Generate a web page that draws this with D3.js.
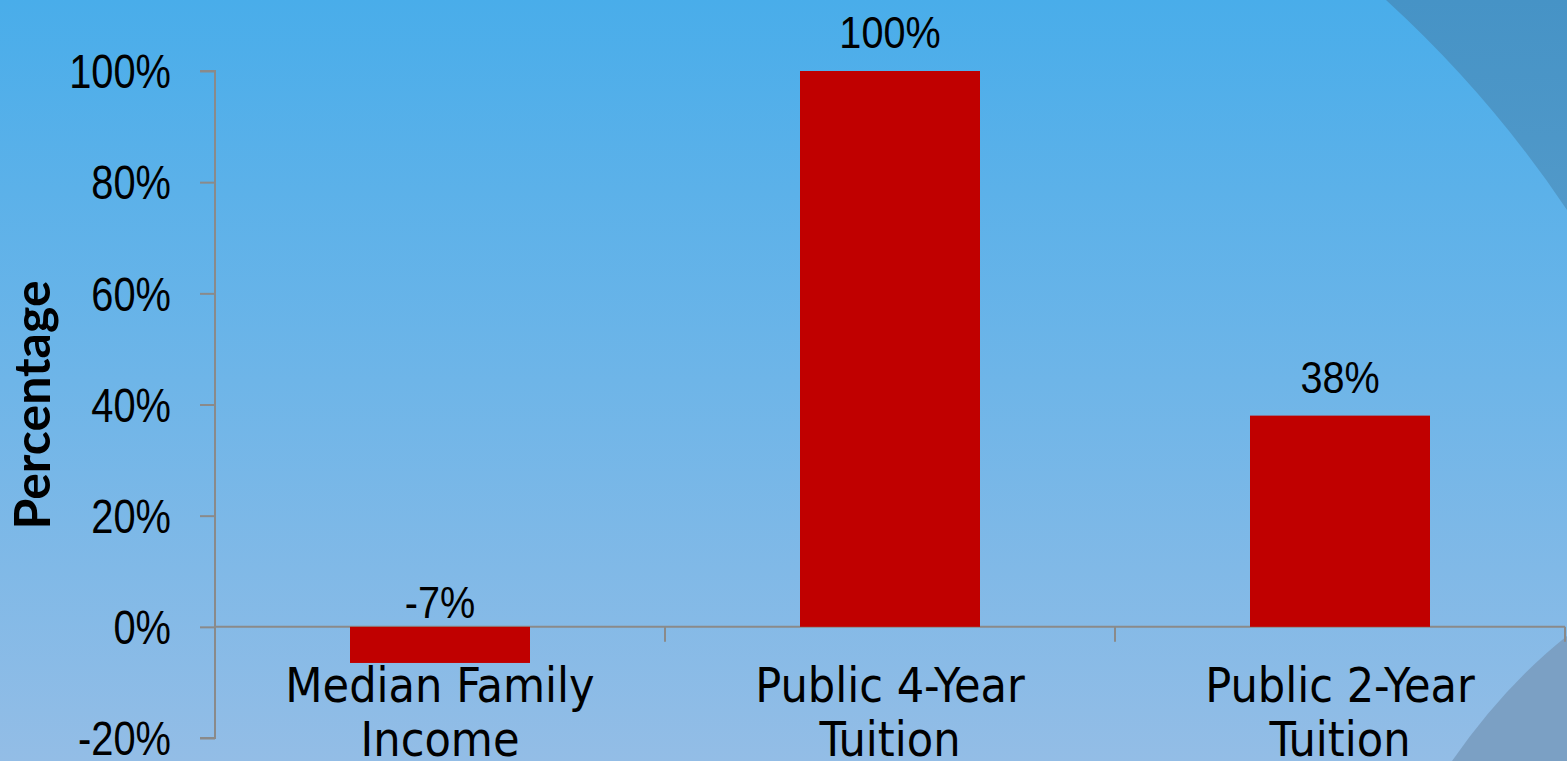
<!DOCTYPE html>
<html>
<head>
<meta charset="utf-8">
<script src="https://cdn.jsdelivr.net/npm/d3@7/dist/d3.min.js"></script>
<style>
  html, body { margin: 0; padding: 0; overflow: hidden; }
  svg { display: block; }
</style>
</head>
<body>
<svg id="chart" width="1567" height="761"></svg>
<script>
// ---- data ----
const categories = [["Median Family", "Income"], ["Public 4-Year", "Tuition"], ["Public 2-Year", "Tuition"]];
const values = [-6.5, 100, 38];
const valueLabels = ["-7%", "100%", "38%"];
const yTicks = [-20, 0, 20, 40, 60, 80, 100];
const yTickLabels = ["-20%", "0%", "20%", "40%", "60%", "80%", "100%"];
const yAxisTitle = "Percentage";

const W = 1567, H = 761;
const svg = d3.select("#chart");

// background
const defs = svg.append("defs");
const grad = defs.append("linearGradient").attr("id", "bg").attr("x1", 0).attr("y1", 0).attr("x2", 0).attr("y2", 1);
grad.append("stop").attr("offset", "0%").attr("stop-color", "#49adea");
grad.append("stop").attr("offset", "100%").attr("stop-color", "#93bde6");
svg.append("rect").attr("width", W).attr("height", H).attr("fill", "url(#bg)");
const grad2 = defs.append("linearGradient").attr("id", "tr").attr("x1", 0).attr("y1", 0).attr("x2", 0).attr("y2", 1);
grad2.append("stop").attr("offset", "0%").attr("stop-color", "#4693c6");
grad2.append("stop").attr("offset", "100%").attr("stop-color", "#5199c9");
svg.append("path").attr("d", "M1386,0 Q1490,95 1567,210 L1567,0 Z").attr("fill", "url(#tr)");
svg.append("path").attr("d", "M1452,761 Q1505,685 1567,636 L1567,761 Z").attr("fill", "#7ba0c4");

// scales
const keys = categories.map(c => c.join(" "));
const x = d3.scaleBand().domain(keys).range([215, 1565]).paddingInner(0.6).paddingOuter(0.3);
const y = d3.scaleLinear().domain([-20, 100]).range([738, 71]);

const axisColor = "#8a8a8a";
const numFont = "'Liberation Sans', Arial, sans-serif";
const catFont = "'DejaVu Sans Condensed', 'DejaVu Sans', sans-serif";
const tickScale = 0.83;
const valScale = 0.88;

// y axis
const yAxis = d3.axisLeft(y).tickValues(yTicks).tickSize(15).tickFormat((d, i) => yTickLabels[i]);
const gy = svg.append("g").attr("transform", "translate(215,0)").call(yAxis);
gy.select(".domain").attr("stroke", axisColor).attr("stroke-width", 2).attr("d", `M-15,${y(-20)}H0V${y(100)}H-15`);
gy.selectAll(".tick line").attr("stroke", axisColor).attr("stroke-width", 2);
gy.selectAll(".tick text").attr("x", -44 / tickScale).attr("dy", "0.35em")
  .attr("transform", `scale(${tickScale},1)`)
  .attr("font-family", numFont).attr("font-size", 48).attr("fill", "#000");

// x axis line with ticks at category boundaries
const step = x.step();
const gx = svg.append("g");
gx.append("line").attr("x1", 215).attr("x2", 1565).attr("y1", y(0)).attr("y2", y(0))
  .attr("stroke", axisColor).attr("stroke-width", 2);
keys.forEach(k => {
  const bx = x(k) + x.bandwidth() / 2 + step / 2;
  gx.append("line").attr("x1", bx).attr("x2", bx).attr("y1", y(0)).attr("y2", y(0) + 15)
    .attr("stroke", axisColor).attr("stroke-width", 2);
});

// bars
svg.append("g").selectAll("rect").data(values).join("rect")
  .attr("x", (d, i) => x(keys[i]))
  .attr("width", x.bandwidth())
  .attr("y", d => y(Math.max(0, d)))
  .attr("height", d => Math.abs(y(d) - y(0)))
  .attr("fill", "#c00000");

// value labels
svg.append("g").selectAll("text").data(values).join("text")
  .attr("transform", (d, i) => `translate(${x(keys[i]) + x.bandwidth() / 2},${y(Math.max(0, d)) - (d < 0 ? 9 : 23)}) scale(${valScale},1)`)
  .attr("text-anchor", "middle")
  .attr("font-family", numFont).attr("font-size", 45).attr("fill", "#000")
  .text((d, i) => valueLabels[i]);

// category labels
const cl = svg.append("g");
categories.forEach((lines, i) => {
  const cx = x(keys[i]) + x.bandwidth() / 2;
  const t = cl.append("text").attr("text-anchor", "middle")
    .attr("font-family", catFont).attr("font-size", 48).attr("fill", "#000");
  lines.forEach((ln, j) => {
    t.append("tspan").attr("x", cx).attr("y", 702 + j * 54).text(ln);
  });
});

// y axis title
svg.append("text")
  .attr("transform", `translate(50,405) rotate(-90)`)
  .attr("text-anchor", "middle")
  .attr("font-family", "Lato, 'Open Sans', sans-serif").attr("font-weight", "bold")
  .attr("font-size", 50).attr("fill", "#000")
  .text(yAxisTitle);
</script>
</body>
</html>
